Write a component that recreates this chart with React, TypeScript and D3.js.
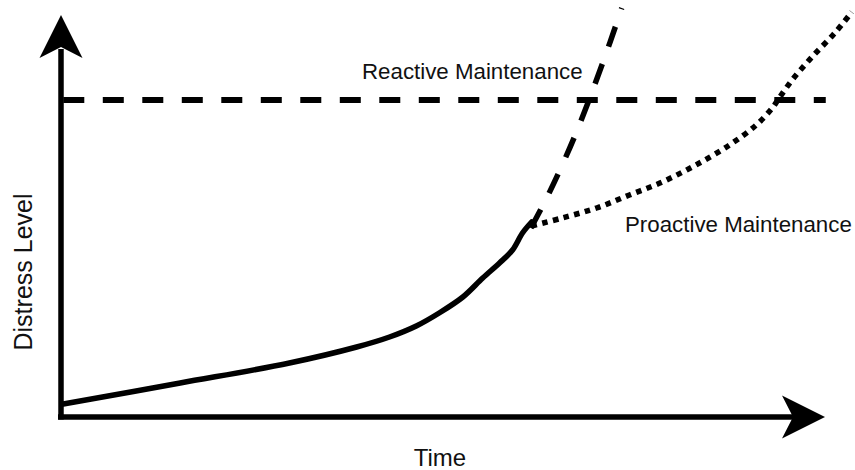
import React from "react";
import * as d3 from "d3";

// Conceptual chart data (time 0..100, distress level 0..100)
const baseTime = [0.3, 15.6, 29.9, 38.7, 43.0, 46.5, 49.5, 52.6, 55.2, 57.4, 59.1, 60.4, 61.6];
const baseDistress = [3.25, 8.5, 13.5, 17.5, 20.0, 22.75, 26.0, 30.0, 34.75, 38.5, 41.75, 46.0, 48.75];

const reactiveTime = [61.5, 63.7, 67.2, 70.9, 73.4];
const reactiveDistress = [47.25, 55.25, 70.0, 88.5, 102.25];

const proactiveTime = [61.6, 65.6, 70.1, 74.4, 78.7, 83.1, 87.5, 91.0, 93.1, 94.0, 95.7, 98.3, 101.4, 103.5];
const proactiveDistress = [47.75, 49.75, 52.25, 55.5, 58.75, 63.0, 68.0, 73.0, 77.25, 79.75, 84.25, 90.0, 96.25, 101.25];

const thresholdLevel = 79.25;
const thresholdStart = 0.3;
const thresholdEnd = 100.1;

const labels = {
  reactive: "Reactive Maintenance",
  proactive: "Proactive Maintenance",
  xAxis: "Time",
  yAxis: "Distress Level",
};

const W = 855;
const H = 470;
const FONT = "'Liberation Sans', Arial, Helvetica, sans-serif";

export default function App() {
  const x = d3.scaleLinear().domain([0, 100]).range([61, 825]);
  const y = d3.scaleLinear().domain([0, 100]).range([417, 17]);

  const line = d3
    .line<[number, number]>()
    .x((d) => x(d[0]))
    .y((d) => y(d[1]))
    .curve(d3.curveCatmullRom.alpha(0.5));

  const zip = (a: number[], b: number[]) => a.map((v, i) => [v, b[i]] as [number, number]);

  const base = line(zip(baseTime, baseDistress)) || "";
  const reactive = line(zip(reactiveTime, reactiveDistress)) || "";
  const proactive = line(zip(proactiveTime, proactiveDistress)) || "";

  // axes geometry
  const ax0 = x(0);
  const ay0 = y(0);
  const arrowLen = 43;
  const arrowHalf = 21.5;
  const notch = 11;
  const yTip = y(100) - 2;
  const xTip = x(100);

  const yArrow = `M${ax0},${yTip} L${ax0 + arrowHalf},${yTip + arrowLen} L${ax0},${yTip + arrowLen - notch} L${ax0 - arrowHalf},${yTip + arrowLen} Z`;
  const xArrow = `M${xTip},${ay0} L${xTip - arrowLen},${ay0 - arrowHalf} L${xTip - arrowLen + notch},${ay0} L${xTip - arrowLen},${ay0 + arrowHalf} Z`;

  return (
    <svg width={W} height={H} style={{ position: "absolute", left: 0, top: 0, background: "#fff" }}>
      {/* axes */}
      <line x1={ax0} y1={ay0 + 2.5} x2={ax0} y2={yTip + arrowLen - notch + 2} stroke="#000" strokeWidth={5.5} />
      <line x1={ax0 - 3} y1={ay0} x2={xTip - arrowLen + notch + 2} y2={ay0} stroke="#000" strokeWidth={5.5} />
      <path d={yArrow} fill="#000" />
      <path d={xArrow} fill="#000" />

      {/* threshold */}
      <line
        x1={x(thresholdStart)}
        y1={y(thresholdLevel)}
        x2={x(thresholdEnd)}
        y2={y(thresholdLevel)}
        stroke="#000"
        strokeWidth={6}
        strokeDasharray="21 18.5"
      />

      {/* curves */}
      <path d={base} fill="none" stroke="#000" strokeWidth={5.5} strokeLinejoin="round" strokeLinecap="round" />
      <path d={reactive} fill="none" stroke="#000" strokeWidth={5.5} strokeDasharray="21 18.5" />
      <path d={proactive} fill="none" stroke="#000" strokeWidth={5.5} strokeDasharray="5.5 5.5" />

      {/* labels */}
      <text x={362} y={79} fontFamily={FONT} fontSize={22.3} fill="#111">
        {labels.reactive}
      </text>
      <text x={625} y={232} fontFamily={FONT} fontSize={22.3} fill="#111">
        {labels.proactive}
      </text>
      <text x={440} y={466} fontFamily={FONT} fontSize={24} textAnchor="middle" fill="#111">
        {labels.xAxis}
      </text>
      <text
        transform={`translate(32,272) rotate(-90)`}
        fontFamily={FONT}
        fontSize={25}
        textAnchor="middle"
        fill="#111"
      >
        {labels.yAxis}
      </text>
    </svg>
  );
}
